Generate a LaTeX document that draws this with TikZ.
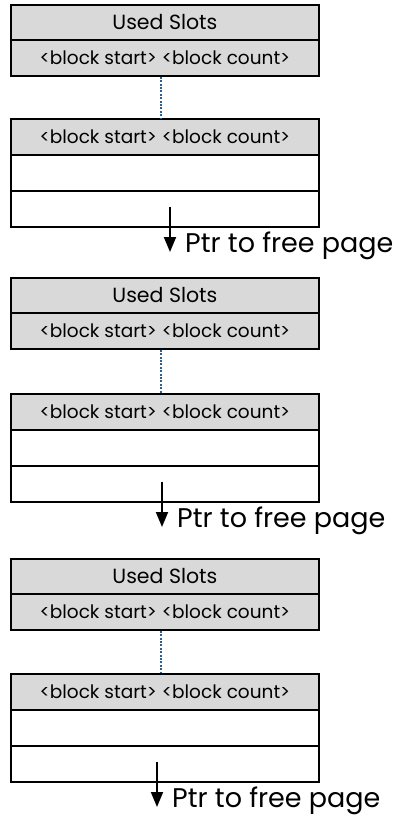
\documentclass[tikz,border=0pt]{standalone}
\usepackage{fontspec}
\setmainfont{Poppins}
\usetikzlibrary{arrows.meta,calc}
\definecolor{slotgray}{HTML}{D9D9D9}
\definecolor{linkblue}{HTML}{2E5E8C}
\begin{document}
\begin{tikzpicture}[x=1pt,y=-1pt,
  row/.style={draw=black, line width=1.8pt, minimum width=308pt, inner sep=0pt,
    anchor=north west, font=\fontsize{18.5}{20}\selectfont},
  headrow/.style={row, fill=slotgray},
  titlerow/.style={headrow, font=\fontsize{20.5}{22}\selectfont},
  plainrow/.style={row, fill=white},
  link/.style={draw=linkblue, line width=2.4pt, dash pattern=on 2pt off 1.4pt},
  ptr/.style={draw=black, line width=1.8pt, -{Triangle[width=12pt,length=15pt]}},
  ptrlabel/.style={anchor=base west, inner sep=0pt, font=\fontsize{27}{30}\selectfont}]
\useasboundingbox (0,0) rectangle (398,816);
\foreach \g/\ta/\tb/\ax in {1/4/118/170, 2/277/393/162, 3/558/673/157}{
  % page header: used-slot count and first slot
  \node[titlerow, minimum height=35pt] (used\g) at (10,\ta) {Used Slots};
  \node[headrow, minimum height=36pt] (blk\g) at (10,\ta+35) {<block start> <block count>};
  % last slot and two empty rows
  \node[headrow, minimum height=36pt] (last\g) at (10,\tb) {<block start> <block count>};
  \node[plainrow, minimum height=36pt] (ea\g) at (10,\tb+36) {};
  \node[plainrow, minimum height=36pt] (eb\g) at (10,\tb+72) {};
  % slots omitted in between
  \draw[link] ([xshift=-4pt]blk\g.south) -- ([xshift=-4pt]last\g.north);
  % pointer to the next free page
  \coordinate (ps\g) at (\ax,\tb+89);
  \node[ptrlabel] (pl\g) at (\ax+15,\tb+134) {Ptr to free page};
  \draw[ptr] (ps\g) -- (ps\g |- pl\g.base);
}
\end{tikzpicture}
\end{document}
